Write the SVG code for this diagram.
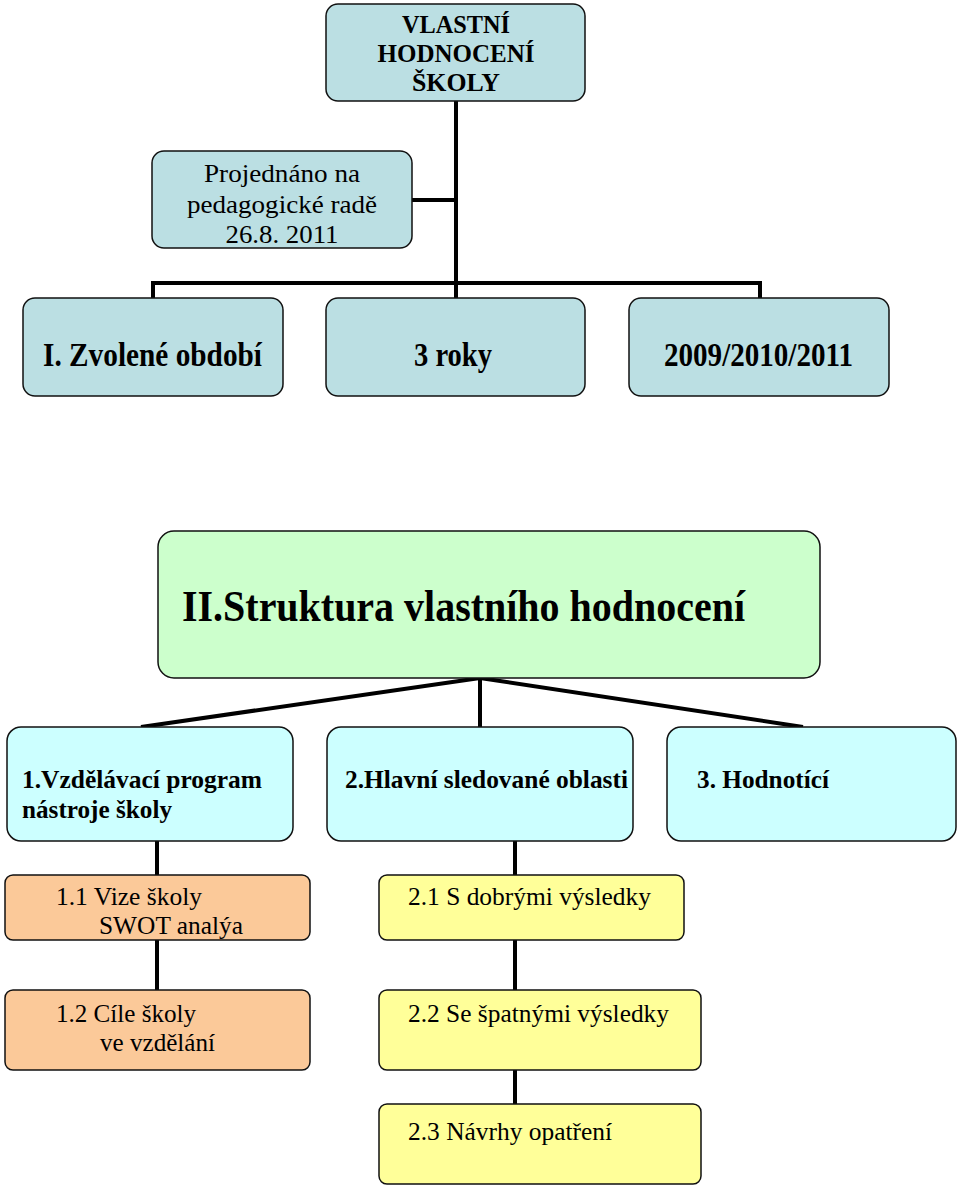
<svg xmlns="http://www.w3.org/2000/svg" width="960" height="1187" viewBox="0 0 960 1187">
<style>
.box{stroke:#111;stroke-width:1.5}
.teal{fill:#bbdfe3}
.green{fill:#ccffcc}
.cyan{fill:#ccffff}
.peach{fill:#fbc999}
.yellow{fill:#ffff99}
text{font-family:'Liberation Serif','Times New Roman',serif;fill:#000}
.b{font-weight:bold}
.con{stroke:#000;stroke-width:4;fill:none}
</style>
<rect width="960" height="1187" fill="#fff"/>
<g id="connectors">
<line class="con" x1="456" y1="101" x2="456" y2="285"/>
<line class="con" x1="412" y1="200" x2="456" y2="200"/>
<polyline class="con" points="153,298 153,283 760,283 760,298"/>
<line class="con" x1="456" y1="283" x2="456" y2="298"/>
<line class="con" x1="480" y1="678" x2="141" y2="727"/>
<line class="con" x1="480" y1="678" x2="480" y2="727"/>
<line class="con" x1="480" y1="678" x2="803" y2="727"/>
<line class="con" x1="157" y1="841" x2="157" y2="875"/>
<line class="con" x1="157" y1="940" x2="157" y2="990"/>
<line class="con" x1="515" y1="841" x2="515" y2="875"/>
<line class="con" x1="515" y1="940" x2="515" y2="990"/>
<line class="con" x1="515" y1="1070" x2="515" y2="1104"/>
</g>
<g id="n-top">
<rect class="box teal" x="326" y="4" width="259" height="97" rx="12"/>
<text class="b" x="456" y="33" font-size="25" text-anchor="middle" textLength="108" lengthAdjust="spacingAndGlyphs">VLASTNÍ</text>
<text class="b" x="456" y="62" font-size="25" text-anchor="middle" textLength="157" lengthAdjust="spacingAndGlyphs">HODNOCENÍ</text>
<text class="b" x="456" y="91" font-size="25" text-anchor="middle" textLength="88" lengthAdjust="spacingAndGlyphs">ŠKOLY</text>
</g>
<g id="n-projednano">
<rect class="box teal" x="152" y="151" width="260" height="97" rx="12"/>
<text x="282" y="182" font-size="26" text-anchor="middle" textLength="156" lengthAdjust="spacingAndGlyphs">Projednáno na</text>
<text x="282" y="213" font-size="26" text-anchor="middle" textLength="190" lengthAdjust="spacingAndGlyphs">pedagogické radě</text>
<text x="282" y="243" font-size="26" text-anchor="middle" textLength="113" lengthAdjust="spacingAndGlyphs">26.8. 2011</text>
</g>
<g id="n-obdobi">
<rect class="box teal" x="23" y="298" width="260" height="98" rx="12"/>
<text class="b" x="43" y="366" font-size="34" textLength="219" lengthAdjust="spacingAndGlyphs">I. Zvolené období</text>
</g>
<g id="n-roky">
<rect class="box teal" x="326" y="298" width="259" height="98" rx="12"/>
<text class="b" x="414" y="366" font-size="34" textLength="78" lengthAdjust="spacingAndGlyphs">3 roky</text>
</g>
<g id="n-roky2">
<rect class="box teal" x="629" y="298" width="260" height="98" rx="12"/>
<text class="b" x="664" y="366" font-size="34" textLength="189" lengthAdjust="spacingAndGlyphs">2009/2010/2011</text>
</g>
<g id="n-struktura">
<rect class="box green" x="158" y="531" width="662" height="147" rx="16"/>
<text class="b" x="182" y="621" font-size="44" textLength="563" lengthAdjust="spacingAndGlyphs">II.Struktura vlastního hodnocení</text>
</g>
<g id="n-1">
<rect class="box cyan" x="7" y="727" width="286" height="114" rx="14"/>
<text class="b" x="22" y="788" font-size="26" textLength="240" lengthAdjust="spacingAndGlyphs">1.Vzdělávací program</text>
<text class="b" x="22" y="818" font-size="26" textLength="150" lengthAdjust="spacingAndGlyphs">nástroje školy</text>
</g>
<g id="n-2">
<rect class="box cyan" x="327" y="727" width="306" height="114" rx="14"/>
<text class="b" x="345" y="788" font-size="26" textLength="283" lengthAdjust="spacingAndGlyphs">2.Hlavní sledované oblasti</text>
</g>
<g id="n-3">
<rect class="box cyan" x="667" y="727" width="289" height="114" rx="14"/>
<text class="b" x="697" y="788" font-size="26" textLength="132" lengthAdjust="spacingAndGlyphs">3. Hodnotící</text>
</g>
<g id="n-1-1">
<rect class="box peach" x="5" y="875" width="305" height="65" rx="8"/>
<text x="56" y="905" font-size="26" textLength="146" lengthAdjust="spacingAndGlyphs">1.1 Vize školy</text>
<text x="99" y="934" font-size="26" textLength="144" lengthAdjust="spacingAndGlyphs">SWOT analýa</text>
</g>
<g id="n-1-2">
<rect class="box peach" x="5" y="990" width="305" height="80" rx="8"/>
<text x="56" y="1022" font-size="26" textLength="140" lengthAdjust="spacingAndGlyphs">1.2 Cíle školy</text>
<text x="100" y="1051" font-size="26" textLength="115" lengthAdjust="spacingAndGlyphs">ve vzdělání</text>
</g>
<g id="n-2-1">
<rect class="box yellow" x="379" y="875" width="305" height="65" rx="8"/>
<text x="408" y="905" font-size="26" textLength="243" lengthAdjust="spacingAndGlyphs">2.1 S dobrými výsledky</text>
</g>
<g id="n-2-2">
<rect class="box yellow" x="379" y="990" width="322" height="80" rx="8"/>
<text x="408" y="1022" font-size="26" textLength="261" lengthAdjust="spacingAndGlyphs">2.2 Se špatnými výsledky</text>
</g>
<g id="n-2-3">
<rect class="box yellow" x="379" y="1104" width="322" height="80" rx="8"/>
<text x="408" y="1140" font-size="26" textLength="204" lengthAdjust="spacingAndGlyphs">2.3 Návrhy opatření</text>
</g>
</svg>
